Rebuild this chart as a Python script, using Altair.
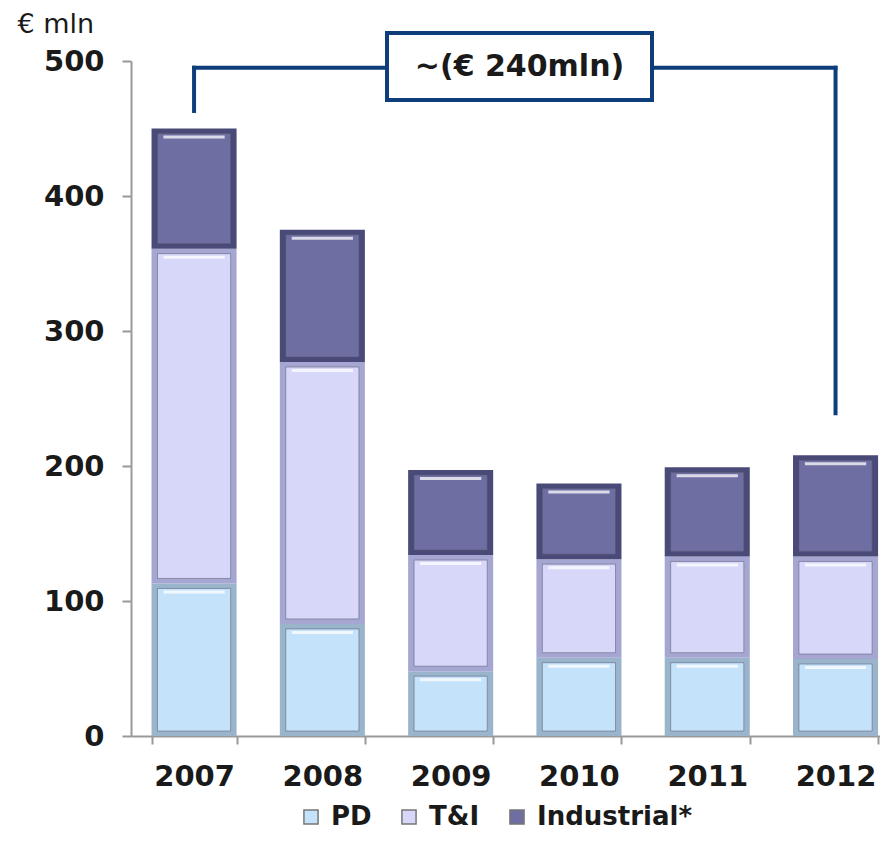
import altair as alt
import pandas as pd

years = ["2007", "2008", "2009", "2010", "2011", "2012"]
series = ["PD", "T&I", "Industrial*"]
pd_vals = [113, 83, 48, 58, 58, 57]
ti_vals = [248, 194, 86, 73, 75, 76]
ind_vals = [89, 98, 63, 56, 66, 75]

main_colors = ["#C4E2FA", "#D7D7FA", "#6E6EA3"]
edge_colors = ["#9AB4CC", "#A6A6D2", "#4A4A78"]

# bracket annotation (data units)
bracket_x = ["2007", "2007", "2012"]
bracket_x2 = ["2007", "2012", "2012"]
bracket_y = [463, 495, 495]
bracket_y2 = [495, 495, 239]
note_text = "~(€ 240mln)"

rows = []
for i, yr in enumerate(years):
    base = 0
    for s, vals, ec in zip(series, [pd_vals, ti_vals, ind_vals], edge_colors):
        v = vals[i]
        rows.append({"year": yr, "series": s, "value": v, "y0": base, "y1": base + v,
                     "edge": ec})
        base += v
df = pd.DataFrame(rows)
br = pd.DataFrame({"year": bracket_x, "year2": bracket_x2, "y": bracket_y, "y2": bracket_y2})

FONT = "DejaVu Sans"

xscale = alt.Scale(domain=years, paddingInner=0.337, paddingOuter=0.16, range=[0, 767.6])
yscale = alt.Scale(domain=[0, 500])

xaxis = alt.Axis(title=None, labelFont=FONT, labelFontWeight="bold", labelFontSize=29,
                 labelColor="#1a1a1a", labelPadding=18, tickBand="extent", tickSize=8,
                 tickColor="#999999", tickWidth=2, domainColor="#999999", domainWidth=2,
                 labelAngle=0)
yaxis = alt.Axis(title="€ mln", titleAngle=0, titleX=-114, titleY=-29, titleAlign="left",
                 titleBaseline="alphabetic", titleFont=FONT, titleFontWeight="normal",
                 titleFontSize=27, titleColor="#1a1a1a",
                 values=[0, 100, 200, 300, 400, 500], labelFont=FONT, labelFontWeight="bold",
                 labelFontSize=29, labelColor="#1a1a1a", labelPadding=18, tickSize=9,
                 tickColor="#999999", tickWidth=2, domainColor="#999999", domainWidth=2,
                 grid=False)

base = alt.Chart(df)

outer = base.mark_bar().encode(
    x=alt.X("year:N", scale=xscale, axis=xaxis),
    y=alt.Y("y1:Q", scale=yscale, axis=yaxis),
    y2="y0:Q",
    fill=alt.Fill("edge:N", scale=None, legend=None),
)

inner = base.mark_bar(width={"band": 0.86}, yOffset=5, y2Offset=-5,
                      stroke="#55556a", strokeWidth=1, strokeOpacity=0.5).encode(
    x=alt.X("year:N", scale=xscale),
    y=alt.Y("y1:Q", scale=yscale),
    y2="y0:Q",
    color=alt.Color("series:N", scale=alt.Scale(domain=series, range=main_colors),
                    sort=series,
                    legend=alt.Legend(title=None, orient="none", legendX=167, legendY=743,
                                      direction="horizontal", symbolType="square",
                                      symbolSize=200, symbolStrokeColor="#777777",
                                      symbolStrokeWidth=1.5, labelFont=FONT,
                                      labelFontWeight="bold", labelFontSize=26,
                                      labelColor="#1a1a1a", labelOffset=7, labelLimit=0,
                                      columnPadding=24)),
)

highlight = base.mark_bar(width={"band": 0.72}, yOffset=7, y2Offset=10,
                          color="white", opacity=0.75).encode(
    x=alt.X("year:N", scale=xscale),
    y=alt.Y("y1:Q", scale=yscale),
    y2="y1:Q",
)

rules = alt.Chart(br).mark_rule(color="#0D3E7A", strokeWidth=4, strokeCap="square").encode(
    x=alt.X("year:N", scale=xscale),
    x2="year2:N",
    y=alt.Y("y:Q", scale=yscale),
    y2="y2:Q",
)

box = alt.Chart(pd.DataFrame({"t": [note_text]})).mark_rect(
    fill="white", stroke="#0D3E7A", strokeWidth=4).encode(
    x=alt.value(256), x2=alt.value(521), y=alt.value(-28), y2=alt.value(39))

note = alt.Chart(pd.DataFrame({"t": [note_text]})).mark_text(
    font=FONT, fontWeight="bold", fontSize=30, color="#1a1a1a",
    align="center", baseline="middle").encode(
    x=alt.value(388.5), y=alt.value(6), text="t:N")

chart = alt.layer(outer, inner, highlight, rules, box, note).resolve_scale(
    color="independent", fill="independent"
).properties(
    width=749, height=675,
    autosize=alt.AutoSizeParams(type="none"),
    padding={"left": 123, "top": 53, "right": 0, "bottom": 98},
).configure_view(stroke=None)

chart.save("out.html", embed_options={"renderer": "svg", "actions": False})
